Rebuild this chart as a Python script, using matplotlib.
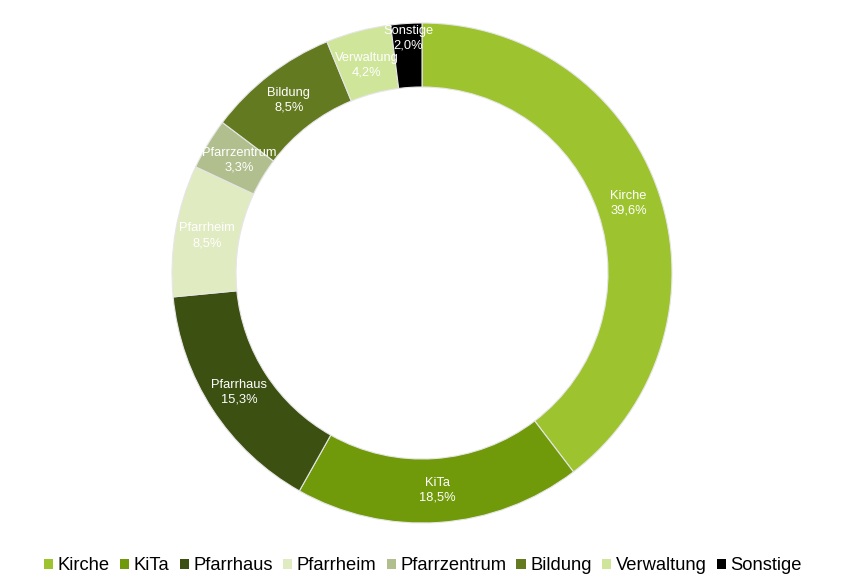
import matplotlib
matplotlib.use("Agg")
import matplotlib.pyplot as plt
import numpy as np

categories = ["Kirche", "KiTa", "Pfarrhaus", "Pfarrheim", "Pfarrzentrum", "Bildung", "Verwaltung", "Sonstige"]
shares = [39.6, 18.5, 15.3, 8.5, 3.3, 8.5, 4.2, 2.0]
colors = ["#9DC42F", "#709A0A", "#3C5012", "#E0EBC1", "#B1BF8E", "#637A21", "#CFE59A", "#000000"]

plt.rcParams["font.family"] = ["Liberation Sans", "DejaVu Sans"]

W, H = 842, 578
fig = plt.figure(figsize=(W / 100, H / 100), dpi=100)
ax = fig.add_axes([0, 0, 1, 1])

cx, cy = 422, H - 273
R = 250
width = 64

wedges, _ = ax.pie(shares, colors=colors, startangle=90, counterclock=False,
                   center=(cx, cy), radius=R,
                   wedgeprops=dict(width=width, edgecolor="#E6E6E6", linewidth=0.8))

# labels in the middle of the ring
total = sum(shares)
cum = 0
for name, val in zip(categories, shares):
    mid = cum + val / 2
    cum += val
    ang = np.deg2rad(90 - mid / total * 360)
    r = R - width / 2
    x = cx + r * np.cos(ang)
    y = cy + r * np.sin(ang)
    if name == "Sonstige":
        y += 17
    elif name == "Verwaltung":
        y -= 3
    elif name == "Pfarrzentrum":
        x += 4
    txt = name + "\n" + ("%.1f" % val).replace(".", ",") + "%"
    ax.text(x, y, txt, ha="center", va="center", color="white", fontsize=9.3,
            linespacing=1.3)

ax.set_xlim(0, W)
ax.set_ylim(0, H)
ax.set_aspect("equal")
ax.axis("off")

leg = fig.legend(wedges, categories, loc="center", bbox_to_anchor=(423 / W, 1 - 566 / H),
                 ncol=len(categories), frameon=False, fontsize=13.2,
                 handlelength=0.5, handleheight=0.5, handletextpad=0.25,
                 columnspacing=0.55)
for h in leg.legend_handles:
    h.set_edgecolor("none")

fig.savefig("out.png", dpi=100)
